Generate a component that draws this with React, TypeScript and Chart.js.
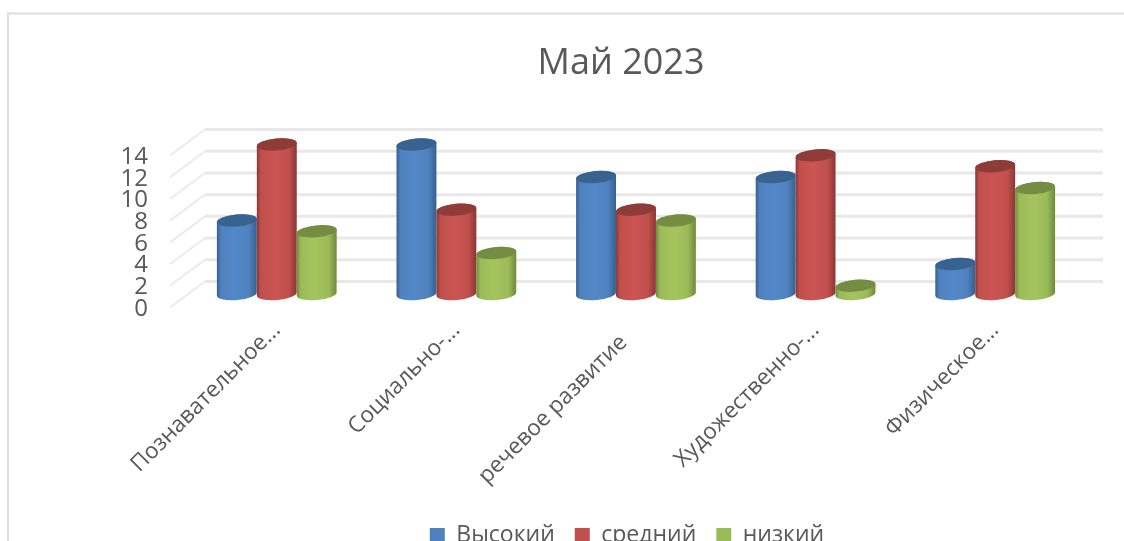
import React, { useEffect, useRef } from "react";
import { Chart, registerables } from "chart.js";

Chart.register(...registerables);

const title = "Май 2023";
const categories = ["Познавательное...", "Социально-...", "речевое развитие", "Художественно-...", "Физическое..."];
const seriesNames = ["Высокий", "средний", "низкий"];
const high = [7, 14, 11, 11, 3];
const medium = [14, 8, 8, 13, 12];
const low = [6, 4, 7, 1, 10];
const yTicks = [0, 2, 4, 6, 8, 10, 12, 14];
const baseColors = ["#4F81BD", "#C0504D", "#9BBB59"];
const midColors = ["#5389C9", "#CB5552", "#A4C55E"];
const darkColors = ["#35608F", "#8A3634", "#6F893C"];
const topColors = ["#38628F", "#8F3C39", "#748D43"];
const textColor = "#595959";
const fontFamily = "'Open Sans', sans-serif";

const depthPlugin = {
  id: "depth",
  afterLayout(chart: any) {
    chart.legend.left += 6;
    chart.legend.right += 6;
  },
  beforeDraw(chart: any) {
    const { ctx, chartArea, scales, width } = chart;
    ctx.save();
    ctx.strokeStyle = "#DEDEDE";
    ctx.lineWidth = 2;
    ctx.beginPath();
    ctx.moveTo(8, 700);
    ctx.lineTo(8, 13.5);
    ctx.lineTo(width, 13.5);
    ctx.stroke();
    const frontX = chartArea.left - 17;
    const backX = chartArea.left + 18;
    const endX = chartArea.right + 18;
    yTicks.forEach((v) => {
      const y = scales.y.getPixelForValue(v);
      ctx.beginPath();
      ctx.strokeStyle = "#EBEBEB";
      ctx.lineWidth = 2;
      ctx.moveTo(frontX, y - 1.5);
      ctx.lineTo(backX, y - 27.5);
      ctx.stroke();
      ctx.beginPath();
      ctx.strokeStyle = "#E8E8E8";
      ctx.lineWidth = 3;
      ctx.moveTo(backX, y - 27.5);
      ctx.lineTo(endX, y - 27.5);
      ctx.stroke();
    });
    ctx.restore();
  },
  beforeDatasetsDraw(chart: any) {
    const { ctx } = chart;
    const topShift = -12.5;
    const bottomShift = -15;
    const tilt = -0.09;
    chart.data.datasets.forEach((_: any, di: number) => {
      const meta = chart.getDatasetMeta(di);
      meta.data.forEach((bar: any) => {
        const rx = bar.width / 2;
        const ry = 6;
        const cx = bar.x;
        const top = bar.y + topShift;
        const bottom = bar.base + bottomShift;
        const dy = rx * Math.sin(tilt);
        ctx.save();
        const grad = ctx.createLinearGradient(cx - rx, 0, cx + rx, 0);
        grad.addColorStop(0, darkColors[di]);
        grad.addColorStop(0.1, baseColors[di]);
        grad.addColorStop(0.45, midColors[di]);
        grad.addColorStop(0.8, baseColors[di]);
        grad.addColorStop(1, darkColors[di]);
        ctx.fillStyle = grad;
        ctx.beginPath();
        ctx.moveTo(cx - rx, top - dy);
        ctx.lineTo(cx - rx, bottom - dy);
        ctx.ellipse(cx, bottom, rx, ry, tilt, Math.PI, 0, true);
        ctx.lineTo(cx + rx, top + dy);
        ctx.ellipse(cx, top, rx, ry, tilt, 0, Math.PI, true);
        ctx.closePath();
        ctx.fill();
        ctx.fillStyle = topColors[di];
        ctx.beginPath();
        ctx.ellipse(cx, top, rx, ry, tilt, 0, Math.PI * 2);
        ctx.fill();
        ctx.restore();
      });
    });
    return false;
  },
};

export default function App() {
  const ref = useRef<HTMLCanvasElement>(null);
  useEffect(() => {
    document.body.style.margin = "0";
    document.body.style.overflow = "hidden";
    const chart = new Chart(ref.current!, {
      type: "bar",
      data: {
        labels: categories,
        datasets: [high, medium, low].map((data, i) => ({
          label: seriesNames[i],
          data,
          backgroundColor: baseColors[i],
          categoryPercentage: 0.667,
          barPercentage: 1,
        })),
      },
      options: {
        animation: false,
        responsive: false,
        layout: { padding: { left: 118, right: 0, top: 0, bottom: 0 } },
        plugins: {
          title: {
            display: true,
            text: title,
            color: textColor,
            font: { family: fontFamily, size: 36, weight: "normal" },
            padding: { top: 42.4, bottom: 71.4 },
          },
          legend: {
            position: "bottom",
            labels: {
              boxWidth: 15,
              boxHeight: 15,
              color: textColor,
              padding: 20,
              font: { family: fontFamily, size: 23 },
            },
          },
          tooltip: { enabled: false },
        },
        scales: {
          x: {
            grid: { display: false },
            border: { display: false },
            ticks: {
              color: textColor,
              font: { family: fontFamily, size: 22.5 },
              minRotation: 45,
              maxRotation: 45,
              autoSkip: false,
              padding: 0,
              callback: (_: any, i: number) => categories[i] + (categories[i].endsWith(".") ? "" : "   "),
            },
            afterFit(s: any) { s.height = 195; },
          },
          y: {
            min: 0,
            max: 14,
            grid: { display: false },
            border: { display: false },
            ticks: {
              stepSize: 2,
              autoSkip: false,
              color: textColor,
              font: { family: fontFamily, size: 24 },
              padding: 31,
            },
            afterFit(s: any) { s.width = 69; },
          },
          pad: {
            position: "right",
            grid: { display: false },
            border: { display: false },
            ticks: { display: false },
            afterFit(s: any) { s.width = 39; },
          },
        },
      } as any,
      plugins: [depthPlugin],
    });
    return () => chart.destroy();
  }, []);
  return (
    <div style={{ width: 1124, height: 541, overflow: "hidden", position: "relative" }}>
      <canvas ref={ref} width={1124} height={557} style={{ display: "block", filter: "blur(0.5px)" }} />
    </div>
  );
}
